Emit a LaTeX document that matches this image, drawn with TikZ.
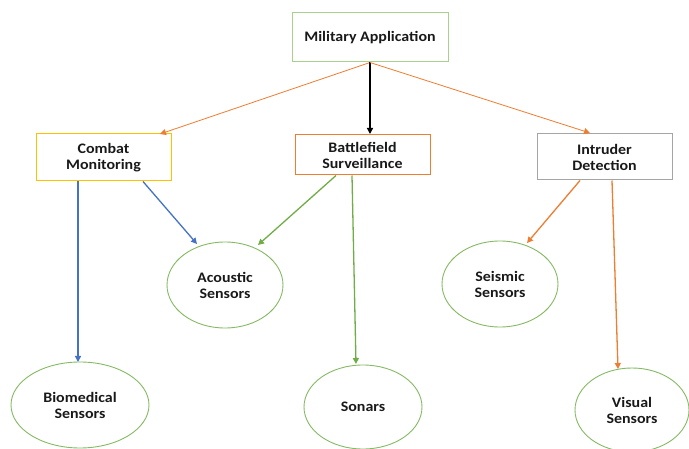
\documentclass[tikz,border=0pt]{standalone}
\usepackage{fontspec}
\setmainfont{Carlito}[FakeStretch=1.1]
\usetikzlibrary{arrows.meta}
\definecolor{corange}{RGB}{237,125,49}
\definecolor{cblue}{RGB}{68,114,196}
\definecolor{cgreen}{RGB}{112,173,71}
\definecolor{clgreen}{RGB}{169,209,142}
\definecolor{cyellow}{RGB}{255,192,0}
\definecolor{cgray}{RGB}{165,165,165}
\begin{document}
\begin{tikzpicture}[x=1pt,y=-1pt,
  lbl/.style={font=\fontsize{14.5}{16}\selectfont\bfseries, align=center, text=black!90},
  boxn/.style={lbl, draw, line width=1pt, minimum height=#1, inner sep=0pt},
  ellp/.style={draw=cgreen!85, line width=0.9pt},
  conn/.style={line width=1.3pt, -{Triangle[length=6pt,width=6pt]}}
]
\useasboundingbox (0,0) rectangle (689,449);
\node[boxn=49pt, draw=clgreen, minimum width=156pt] (mil) at (370,37.5) {Military Application};
\node[boxn=47pt, draw=cyellow, minimum width=135pt] (com) at (103.5,157.5) {Combat\\Monitoring};
\node[boxn=40pt, draw=corange, minimum width=135pt] (bat) at (362.5,155) {Battlefield\\Surveillance};
\node[boxn=46pt, draw=cgray, minimum width=135pt] (int) at (604.5,157) {Intruder\\Detection};
\draw[ellp] (225,285) ellipse [x radius=58, y radius=43];
\node[lbl] (aco) at (225,285) {Acoustic\\Sensors};
\draw[ellp] (80,405) ellipse [x radius=69, y radius=43];
\node[lbl] (bio) at (80,405) {Biomedical\\Sensors};
\draw[ellp] (363,407) ellipse [x radius=59, y radius=42];
\node[lbl] (son) at (363,407) {Sonars};
\draw[ellp] (500,284) ellipse [x radius=58, y radius=43];
\node[lbl] (sei) at (500,284) {Seismic\\Sensors};
\draw[ellp] (632,410) ellipse [x radius=57, y radius=42];
\node[lbl] (vis) at (632,410) {Visual\\Sensors};
\coordinate (a1) at (160,134);
\coordinate (a2) at (370,134);
\coordinate (a3) at (590,133);
\coordinate (b1) at (78,362);
\coordinate (b2) at (197,244);
\coordinate (b3) at (258,245);
\coordinate (b4) at (356,364);
\coordinate (b5) at (527,243);
\coordinate (b6) at (618,369);
\draw[conn, corange, line width=0.8pt] (mil.south) -- (a1);
\draw[conn, black] (mil.south) -- (a2);
\draw[conn, corange, line width=0.8pt] (mil.south) -- (a3);
\draw[conn, cblue] (com.south -| 78,0) -- (b1);
\draw[conn, cblue] (com.south -| 143,0) -- (b2);
\draw[conn, cgreen] (bat.south -| 336,0) -- (b3);
\draw[conn, cgreen] (bat.south -| 352,0) -- (b4);
\draw[conn, corange] (int.south -| 580,0) -- (b5);
\draw[conn, corange] (int.south -| 612,0) -- (b6);
\end{tikzpicture}
\end{document}
